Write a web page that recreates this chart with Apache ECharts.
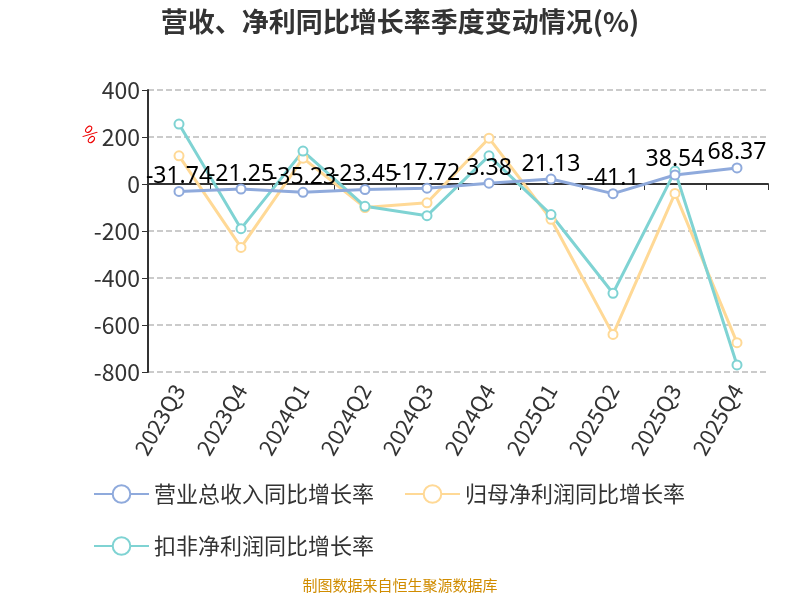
<!DOCTYPE html>
<html><head><meta charset="utf-8">
<script src="https://cdn.jsdelivr.net/npm/echarts@6/dist/echarts.min.js"></script>
<style>body{margin:0}#c{width:800px;height:600px}</style></head>
<body><div id="c"></div>
<script>
const quarters = ['2023Q3','2023Q4','2024Q1','2024Q2','2024Q3','2024Q4','2025Q1','2025Q2','2025Q3','2025Q4'];
const revenue = [-31.74,-21.25,-35.23,-23.45,-17.72,3.38,21.13,-41.1,38.54,68.37];
const netProfit = [120,-270,110,-100,-80,195,-150,-640,-40,-675];
const deductedProfit = [255,-190,140,-95,-135,120,-130,-465,55,-770];

const chart = echarts.init(document.getElementById('c'));
const font = 'Noto Sans CJK SC';
function line(name, data, color, labels) {
    return {
        name: name, type: 'line', data: data, symbol: 'circle', symbolSize: 9,
        lineStyle: { width: 3, color: color },
        itemStyle: { color: '#fff', borderColor: color, borderWidth: 2 },
        label: { show: labels, position: 'top', distance: -2, fontSize: 23, color: '#000', fontFamily: 'Noto Sans' },
        z: labels ? 5 : 3
    };
}
chart.setOption({
    textStyle: { fontFamily: font },
    title: {
        text: '营收、净利同比增长率季度变动情况(%)', left: 'center', top: 3,
        textStyle: { fontSize: 27, fontWeight: 'bold', color: '#333' }
    },
    legend: {
        left: 88, top: 478, width: 690, itemWidth: 55, itemHeight: 22, itemGap: 30,
        textStyle: { fontSize: 22, color: '#333' },
        data: ['营业总收入同比增长率','归母净利润同比增长率','扣非净利润同比增长率']
    },
    graphic: [{
        type: 'text', left: 'center', top: 578,
        style: { text: '制图数据来自恒生聚源数据库', fill: '#d08c00', fontSize: 15, fontFamily: font }
    }, {
        type: 'text', left: 78, top: 122, rotation: -Math.PI / 4,
        style: { text: '%', fill: '#e00', fontSize: 18, fontFamily: font }
    }],
    grid: { left: 148, right: 32, top: 90, bottom: 228 },
    xAxis: [{
        type: 'category', data: quarters, boundaryGap: true,
        axisLine: { onZero: true, lineStyle: { color: '#333', width: 2 } },
        axisTick: { show: true, length: 6, lineStyle: { color: '#333' } },
        axisLabel: { show: false }
    }, {
        type: 'category', data: quarters, position: 'bottom',
        axisLine: { show: false }, axisTick: { show: false },
        axisLabel: { rotate: 60, fontSize: 22, color: '#333', margin: 14 }
    }],
    yAxis: {
        type: 'value', min: -800, max: 400, interval: 200,
        axisLine: { show: true, lineStyle: { color: '#333', width: 2 } },
        axisTick: { show: true, length: 6 },
        axisLabel: { fontSize: 23, color: '#333' },
        splitLine: { lineStyle: { type: 'dashed', color: '#bbb', width: 1.5 } }
    },
    series: [
        line('营业总收入同比增长率', revenue, '#8faadc', true),
        line('归母净利润同比增长率', netProfit, '#ffd996', false),
        line('扣非净利润同比增长率', deductedProfit, '#7fd3d3', false)
    ]
});
</script></body></html>
